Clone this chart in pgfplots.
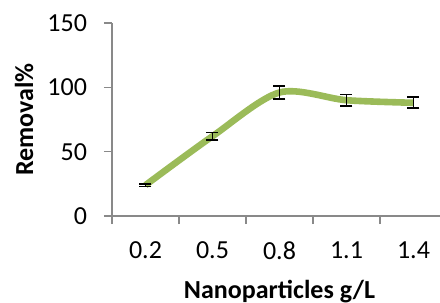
\documentclass[border=0pt]{standalone}
\usepackage{pgfplots}
\pgfplotsset{compat=1.18}
\usepackage{fontspec}
\setmainfont{Carlito}
\definecolor{lgreen}{HTML}{9BBB59}
\definecolor{axgray}{HTML}{898989}
\begin{document}
\begin{tikzpicture}
\begin{axis}[name=ax, at={(0,0)}, anchor=south west,
 scale only axis, width=167.5pt, height=96.5pt,
 xmin=-0.5, xmax=4.5, ymin=0, ymax=150,
 axis lines*=left, axis line style={axgray, line width=0.8pt, -},
 every tick/.style={axgray, line width=0.8pt},
 tick align=outside,
 xtick={0,...,4}, xticklabels={0.2,0.5,0.8,1.1,1.4},
 major x tick style={draw=none},
 minor xtick={-0.5,0.5,1.5,2.5,3.5,4.5},
 minor tick length=4pt, major tick length=4pt,
 ytick={0,50,100,150},
 tick label style={font=\fontsize{13}{15}\selectfont, black},
 xticklabel style={yshift=-5.5pt},
 yticklabel style={xshift=-5pt},
 /pgf/number format/assume math mode=true,
 xlabel={Nanoparticles g/L}, ylabel={Removal\%},
 every axis x label/.style={at={(axis description cs:0.5,-0.4249)}, anchor=base,
   font=\bfseries\fontsize{13}{15}\selectfont},
 every axis y label/.style={at={(axis description cs:-0.2358,0.5)}, rotate=90, anchor=base,
   font=\bfseries\fontsize{13}{15}\selectfont},
 clip=false,
]
\addplot[lgreen, line width=3.3pt, smooth, error bars/.cd, y dir=both, y explicit,
  error bar style={black, line width=0.85pt},
  error mark options={black, rotate=90, mark size=3pt, line width=0.85pt}]
 table[y error=e] {
x y e
0 24 1
1 62 3
2 96 4.8
3 90 4.5
4 88 4.3
};
\end{axis}
\pgfresetboundingbox
\path (-56pt,-43pt) rectangle (164pt,108pt);
\end{tikzpicture}
\end{document}
